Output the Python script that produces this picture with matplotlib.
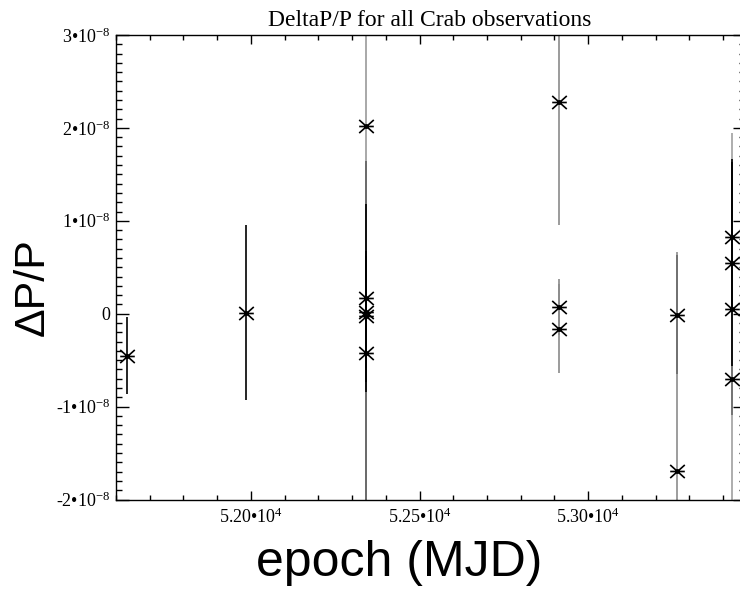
import matplotlib
matplotlib.use("Agg")
import matplotlib.pyplot as plt
from matplotlib.path import Path
from matplotlib.ticker import FixedLocator, MultipleLocator, FuncFormatter
import numpy as np

plt.rcParams["mathtext.fontset"] = "custom"
plt.rcParams["mathtext.rm"] = "Liberation Serif"
plt.rcParams["mathtext.default"] = "regular"

# Crab pulsar period residuals, one row per observation
epoch_mjd = [51633, 51986,
             52340, 52340, 52340, 52340, 52340,
             52913, 52913, 52913,
             53264, 53264,
             53425, 53425, 53425, 53425]
delta_p_over_p = [-0.45, 0.01,
                  2.02, 0.17, 0.02, -0.03, -0.42,
                  2.28, 0.07, -0.16,
                  -0.01, -1.69,
                  0.83, 0.55, 0.05, -0.70]          # units of 1e-8
delta_p_err = [0.41, 0.94,
               4.50, 1.01, 0.60, 0.70, 2.06,
               1.32, 0.30, 0.48,
               0.64, 2.35,
               0.80, 1.11, 1.14, 2.65]               # units of 1e-8
bar_shade = ["#000000", "#000000",
             "#9a9a9a", "#000000", "#000000", "#000000", "#606060",
             "#8a8a8a", "#8a8a8a", "#8a8a8a",
             "#6a6a6a", "#8c8c8c",
             "#000000", "#000000", "#6a6a6a", "#a0a0a0"]

x_major_ticks = [52000, 52500, 53000]
y_major_ticks = [-2, -1, 0, 1, 2, 3]
scale = 1e-8

x = np.array(epoch_mjd, dtype=float)
y = np.array(delta_p_over_p) * scale
e = np.array(delta_p_err) * scale

fig = plt.figure(figsize=(7.4, 5.91), dpi=100)
ax = fig.add_axes([116 / 740, (591 - 499.5) / 591, 629 / 740, 464.5 / 591])

# longest bars first so the shorter ones stay visible on top
order = np.argsort(-e)
ax.vlines(x[order], (y - e)[order], (y + e)[order],
          colors=[bar_shade[i] for i in order], linewidth=1.2, zorder=2)

# IDL-style asterisk: an X with a horizontal stroke
asterisk = Path([(-1, -0.9), (1, 0.9), (-1, 0.9), (1, -0.9), (-1, 0), (1, 0)],
                [Path.MOVETO, Path.LINETO] * 3)
ax.plot(x, y, linestyle="none", marker=asterisk, ms=10.5, mew=1.2,
        color="black", zorder=3)
ax.plot(x, y, linestyle="none", marker="o", ms=2.5, color="black", zorder=4)

ax.set_xlim(51600, 53465)
ax.set_ylim(-2 * scale, 3 * scale)

ax.xaxis.set_major_locator(FixedLocator(x_major_ticks))
ax.xaxis.set_minor_locator(MultipleLocator(100))
ax.yaxis.set_major_locator(FixedLocator([v * scale for v in y_major_ticks]))
ax.yaxis.set_minor_locator(MultipleLocator(0.1 * scale))


def fmt_x(v, pos):
    return "%.2f\u202210$^{4}$" % (v / 1e4)


def fmt_y(v, pos):
    n = int(round(v / scale))
    if n == 0:
        return "0"
    return "%d\u202210$^{-8}$" % n


ax.xaxis.set_major_formatter(FuncFormatter(fmt_x))
ax.yaxis.set_major_formatter(FuncFormatter(fmt_y))

ax.tick_params(which="both", direction="in", top=True, right=True,
               width=1.0, colors="black")
ax.tick_params(axis="y", which="major", length=9.0, pad=4)
ax.tick_params(axis="y", which="minor", length=4.5)
ax.tick_params(axis="x", which="major", length=6.7, pad=6)
ax.tick_params(axis="x", which="minor", length=3.4)
for lab in ax.get_xticklabels() + ax.get_yticklabels():
    lab.set_fontfamily("Liberation Serif")
    lab.set_fontsize(13)
for sp in ax.spines.values():
    sp.set_linewidth(1.0)

fig.text(430 / 740, (591 - 26) / 591, "DeltaP/P for all Crab observations",
         ha="center", va="baseline", fontsize=17, family="Liberation Serif")
fig.text(33 / 740, (591 - 287) / 591, "\u0394P/P", rotation=90,
         ha="center", va="center", fontsize=31, family="Liberation Sans")
fig.text(399 / 740, (591 - 576) / 591, "epoch (MJD)",
         ha="center", va="baseline", fontsize=36, family="Liberation Sans")

fig.savefig("out.png", dpi=100)
